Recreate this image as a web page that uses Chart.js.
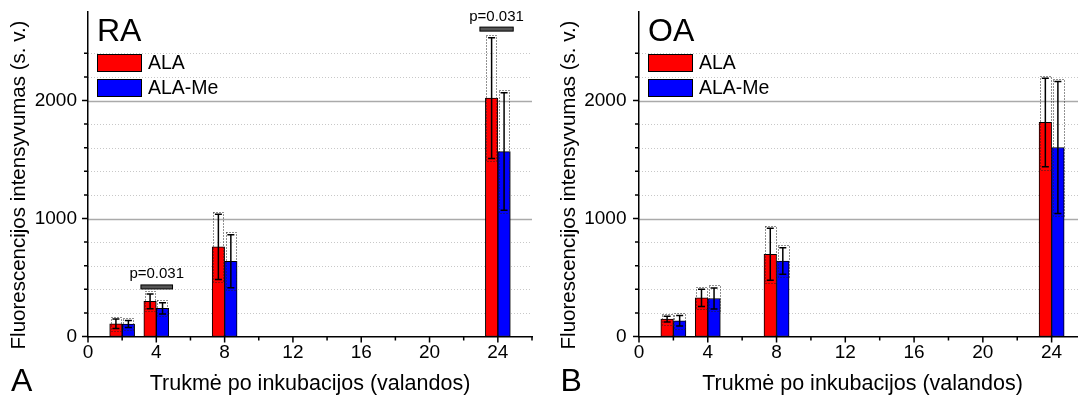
<!DOCTYPE html>
<html>
<head>
<meta charset="utf-8">
<script src="https://cdn.jsdelivr.net/npm/chart.js@4"></script>
<style>
  body { margin: 0; width: 1078px; height: 398px; overflow: hidden; background: #fff; position: relative; }
  .panel { position: absolute; top: 0; height: 398px; overflow: hidden; }
</style>
</head>
<body>
<div class="panel" style="left:0;width:540px"><canvas id="chartA" width="540" height="398"></canvas></div>
<div class="panel" style="left:540px;width:550px"><canvas id="chartB" width="550" height="398"></canvas></div>
<script>
// hours after incubation
const hours = [2, 4, 8, 24];
const seriesNames = ['ALA', 'ALA-Me'];
const seriesColors = ['#ff0000', '#0000ff'];

// RA panel
const raAla = [108, 298, 760, 2020];
const raAlaErr = [40, 63, 277, 512];
const raAlaMe = [106, 238, 638, 1567];
const raAlaMeErr = [30, 47, 225, 498];
const raPMarks = [
  { from: 3.1, to: 4.95, y: 420, text: 'p=0.031' },
  { from: 22.95, to: 24.9, y: 2605, text: 'p=0.031' }
];

// OA panel
const oaAla = [147, 328, 697, 1814];
const oaAlaErr = [24, 73, 220, 375];
const oaAlaMe = [133, 322, 640, 1602];
const oaAlaMeErr = [45, 90, 113, 559];
const oaPMarks = [];

const yTitle = 'Fluorescencijos intensyvumas (s. v.)';
const xTitle = 'Trukmė po inkubacijos (valandos)';

const FONT = "'Liberation Sans', Arial, sans-serif";
const BAR_W = 0.73; // bar width in hours

function decor(cfg) {
  return {
    id: 'decor',
    beforeDraw(chart) {
      const { ctx, chartArea: a, scales: { y } } = chart;
      ctx.save();
      y.ticks.forEach(t => {
        const v = t.value;
        if (v <= 0 || v % 200 !== 0) return;
        const major = v % 1000 === 0;
        const py = Math.round(y.getPixelForValue(v)) + 0.5;
        ctx.beginPath();
        ctx.setLineDash(major ? [] : [1, 2]);
        ctx.strokeStyle = major ? '#aaaaaa' : '#c8c8c8';
        ctx.lineWidth = major ? 1.5 : 1;
        ctx.moveTo(a.left, py);
        ctx.lineTo(a.right, py);
        ctx.stroke();
      });
      ctx.restore();
    },
    afterDatasetsDraw(chart) {
      const { ctx, scales: { x, y } } = chart;
      ctx.save();
      chart.data.datasets.forEach((ds, i) => {
        const meta = chart.getDatasetMeta(i);
        meta.data.forEach((bar, j) => {
          const v = ds.data[j].y, e = ds.errors[j];
          const top = y.getPixelForValue(v + e);
          const bot = y.getPixelForValue(v - e);
          const l = Math.round(bar.x - bar.width / 2) + 0.5;
          // dotted range box
          ctx.setLineDash([1, 2]);
          ctx.lineWidth = 1;
          ctx.strokeStyle = '#222';
          ctx.strokeRect(l + 1, Math.round(top - 2.5) + 0.5, Math.round(bar.width) - 2, Math.round(bot - top + 5));
          // whisker
          ctx.setLineDash([]);
          ctx.strokeStyle = '#000';
          ctx.lineWidth = 1.5;
          ctx.beginPath();
          ctx.moveTo(bar.x, top); ctx.lineTo(bar.x, bot);
          ctx.moveTo(bar.x - 3.5, top); ctx.lineTo(bar.x + 3.5, top);
          ctx.moveTo(bar.x - 3.5, bot); ctx.lineTo(bar.x + 3.5, bot);
          ctx.stroke();
        });
      });
      cfg.pMarks.forEach(p => {
        const x1 = x.getPixelForValue(p.from), x2 = x.getPixelForValue(p.to);
        const py = y.getPixelForValue(p.y);
        ctx.fillStyle = '#555';
        ctx.fillRect(x1, py - 2, x2 - x1, 4);
        ctx.strokeStyle = '#000';
        ctx.lineWidth = 1;
        ctx.strokeRect(x1, py - 2, x2 - x1, 4);
        ctx.fillStyle = '#000';
        ctx.font = '15px ' + FONT;
        ctx.textAlign = 'center';
        ctx.textBaseline = 'alphabetic';
        ctx.fillText(p.text, (x1 + x2) / 2, py - 8.5);
      });
      ctx.restore();
    },
    afterDraw(chart) {
      const { ctx, chartArea: a, scales: { x, y } } = chart;
      ctx.save();
      // tick marks
      ctx.strokeStyle = '#000';
      ctx.lineWidth = 1.5;
      ctx.beginPath();
      y.ticks.forEach(t => {
        if (t.value % 200 !== 0) return;
        const py = y.getPixelForValue(t.value);
        const len = t.value % 1000 === 0 ? 6 : 4;
        ctx.moveTo(a.left - len, py); ctx.lineTo(a.left, py);
      });
      x.ticks.forEach(t => {
        const px = x.getPixelForValue(t.value);
        const len = t.value % 4 === 0 ? 6 : 4;
        ctx.moveTo(px, a.bottom); ctx.lineTo(px, a.bottom + len);
      });
      ctx.stroke();

      // panel name and legend
      ctx.fillStyle = '#000';
      ctx.textAlign = 'left';
      ctx.textBaseline = 'alphabetic';
      ctx.font = '32px ' + FONT;
      ctx.fillText(cfg.name, a.left + 9, 41);
      chart.data.datasets.forEach((ds, i) => {
        const bx = Math.round(a.left + 9), by = 54 + i * 25;
        ctx.fillStyle = ds.backgroundColor;
        ctx.fillRect(bx, by, 44, 17);
        ctx.strokeStyle = '#000';
        ctx.lineWidth = 1;
        ctx.strokeRect(bx + 0.5, by + 0.5, 44, 17);
        ctx.fillStyle = '#000';
        ctx.font = '19.5px ' + FONT;
        ctx.textBaseline = 'middle';
        ctx.fillText(ds.label, bx + 51, by + 9.5);
      });

      // axis titles
      ctx.textAlign = 'center';
      ctx.textBaseline = 'middle';
      ctx.font = '20.5px ' + FONT;
      ctx.save();
      ctx.translate(cfg.yTitleX, 185);
      ctx.rotate(-Math.PI / 2);
      ctx.fillText(yTitle, 0, 0);
      ctx.restore();
      ctx.font = '21.5px ' + FONT;
      ctx.fillText(xTitle, (a.left + a.right) / 2, 384);

      // panel letter
      ctx.textAlign = 'left';
      ctx.textBaseline = 'alphabetic';
      ctx.font = '32px ' + FONT;
      ctx.fillText(cfg.letter, cfg.letterX, 391);
      ctx.restore();
    }
  };
}

function makePanel(id, cfg) {
  const vals = [cfg.ala, cfg.alaMe];
  const errs = [cfg.alaErr, cfg.alaMeErr];
  const datasets = seriesNames.map((name, i) => ({
    label: name,
    data: hours.map((h, j) => ({ x: h + (i === 0 ? -BAR_W / 2 : BAR_W / 2), y: vals[i][j] })),
    errors: errs[i],
    backgroundColor: seriesColors[i],
    borderColor: '#000',
    borderWidth: 1,
    borderSkipped: false,
    grouped: false,
    barPercentage: 1,
    categoryPercentage: 1
  }));

  const tickFont = { family: FONT, size: 19 };
  return new Chart(document.getElementById(id).getContext('2d'), {
    type: 'bar',
    data: { datasets },
    options: {
      responsive: false,
      animation: false,
      events: [],
      layout: { padding: { left: 0, top: 12, right: cfg.padRight, bottom: 0 } },
      plugins: { legend: { display: false }, tooltip: { enabled: false } },
      scales: {
        x: {
          type: 'linear',
          min: 0,
          max: 26,
          offset: false,
          grid: { display: false, drawTicks: false },
          border: { display: true, color: '#000', width: 1.5 },
          ticks: {
            stepSize: 2,
            autoSkip: false,
            maxRotation: 0,
            padding: 5,
            color: '#000',
            font: tickFont,
            callback: v => (v % 4 === 0 ? String(v) : '')
          },
          afterFit: s => { s.height = 61.5; s.paddingLeft = 0; s.paddingRight = 0; }
        },
        y: {
          min: 0,
          max: 2750,
          grid: { display: false, drawTicks: false },
          border: { display: true, color: '#000', width: 1.5 },
          ticks: {
            stepSize: 200,
            autoSkip: false,
            padding: cfg.labelPad,
            color: '#000',
            font: tickFont,
            callback: v => (v % 1000 === 0 ? String(v) : '')
          },
          afterFit: s => { s.width = cfg.axisLeft; s.paddingTop = 0; s.paddingBottom = 0; }
        }
      }
    },
    plugins: [decor(cfg)]
  });
}

makePanel('chartA', {
  name: 'RA', letter: 'A', letterX: 11, yTitleX: 19.5,
  axisLeft: 88, padRight: 8, labelPad: 11,
  ala: raAla, alaErr: raAlaErr, alaMe: raAlaMe, alaMeErr: raAlaMeErr,
  pMarks: raPMarks
});

makePanel('chartB', {
  name: 'OA', letter: 'B', letterX: 20.5, yTitleX: 29,
  axisLeft: 99, padRight: 4, labelPad: 12.5,
  ala: oaAla, alaErr: oaAlaErr, alaMe: oaAlaMe, alaMeErr: oaAlaMeErr,
  pMarks: oaPMarks
});
</script>
</body>
</html>
